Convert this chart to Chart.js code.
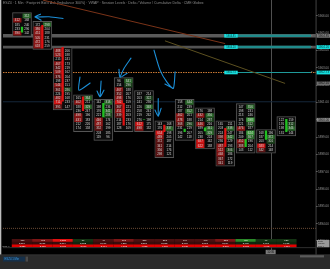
<!DOCTYPE html>
<html>
<head>
<meta charset="utf-8">
<script src="https://cdn.jsdelivr.net/npm/chart.js@4.4.1/dist/chart.umd.min.js"></script>
<style>
  html, body { margin: 0; padding: 0; background: #000; overflow: hidden; }
</style>
</head>
<body>
<canvas id="fp" width="330" height="269"></canvas>
<script>
// footprint 1 min : bid x ask par niveau de prix, bougie au centre, tableau delta en bas

var TICK = 0.25;
var FONT = "'Liberation Sans', Arial, sans-serif";

var header = 'ESZ4 · 1 Min · Footprint Bid x Ask (Imbalance 300%) · VWAP · Session Levels · Delta / Volume / Cumulative Delta · CME Globex';

// colonnes : premier niveau (haut) de chaque barre
var times = ['09:35', '09:40', '09:45', '09:50', '09:55', '10:00', '10:05', '10:10', '10:15', '10:20', '10:25', '10:30', '10:35', '10:40'];
var colTop = [5906.0, 5905.5, 5904.0, 5901.25, 5901.0, 5902.25, 5901.5, 5899.75, 5901.0, 5900.5, 5899.75, 5900.75, 5899.25, 5900.0];

var bidVol = [
  [0, 412, 185, 233, 390],
  [172, 386, 451, 505, 472, 618],
  [488, 523, 215, 467, 342, 509, 376, 198, 544, 361, 224, 482, 711, 395],
  [165, 402, 188, 236, 498, 431, 212, 174],
  [142, 198, 176, 221, 446, 487, 352, 203, 119],
  [96, 154, 467, 352, 498, 702, 367, 451, 339, 214, 187, 128],
  [187, 203, 241, 226, 258, 219, 276, 612, 498],
  [143, 176, 654, 489, 372, 341, 356, 298],
  [158, 212, 187, 462, 478, 368, 231, 196, 142],
  [176, 432, 214, 446, 189, 205, 238, 687, 622],
  [165, 203, 224, 398, 236, 487, 512, 468, 367, 341],
  [147, 198, 213, 176, 221, 476, 184, 209, 452, 388, 143],
  [168, 187, 203, 583, 342],
  [122, 176, 198, 131]
];
var askVol = [
  [312, 168, 240, 296, 142],
  [298, 204, 188, 231, 176, 259],
  [206, 188, 241, 173, 219, 162, 204, 237, 151, 286, 195, 168, 233, 147],
  [364, 211, 329, 247, 196, 183, 226, 158],
  [318, 236, 341, 288, 174, 162, 199, 185, 96],
  [341, 296, 188, 207, 176, 159, 221, 185, 203, 233, 176, 109],
  [214, 322, 236, 348, 241, 262, 198, 175, 132],
  [168, 337, 198, 205, 187, 214, 176, 121],
  [344, 239, 352, 201, 188, 296, 219, 207, 118],
  [198, 356, 287, 216, 341, 329, 224, 162, 138],
  [211, 338, 247, 342, 229, 193, 306, 186, 172, 119],
  [356, 231, 246, 598, 312, 187, 624, 367, 196, 204, 112],
  [196, 372, 301, 214, 148],
  [159, 312, 346, 144]
];
// imbalance par niveau : 1er car. = bid (r/R/B), 2e = ask (g/G/L), '.' = aucun
var imbalance = [
  ['.G', 'R.', '..', '..', 'R.'],
  ['.G', 'R.', 'R.', 'R.', 'R.', 'R.'],
  ['R.', 'R.', '..', 'R.', 'r.', 'R.', 'r.', '..', 'R.', 'rg', '..', 'R.', 'B.', 'r.'],
  ['.G', 'R.', '.G', '..', 'R.', 'R.', '..', '..'],
  ['.G', '..', '.G', '.g', 'R.', 'R.', 'r.', '..', '..'],
  ['.G', '.g', 'R.', 'r.', 'R.', 'B.', 'r.', 'R.', 'r.', '..', '..', '..'],
  ['..', '.g', '..', '.G', '..', '..', '..', 'B.', 'R.'],
  ['..', '.G', 'B.', 'R.', 'r.', 'r.', 'r.', 'r.'],
  ['.G', '..', '.G', 'R.', 'R.', 'rg', '..', '..', '..'],
  ['..', 'RG', '.g', 'R.', '.G', '.G', '..', 'B.', 'B.'],
  ['..', '.G', '..', 'rG', '..', 'R.', 'Rg', 'R.', 'r.', 'r.'],
  ['.G', '..', '..', '.L', '.g', 'R.', '.L', '.G', 'R.', 'r.', '..'],
  ['..', '.G', '.g', 'B.', 'r.'],
  ['..', '.g', '.G', '..']
];
var candleOpen = [5905.06, 5905.46, 5904.19, 5901.33, 5900.17, 5900.95, 5900.0, 5899.69, 5899.31, 5899.36, 5899.50, 5898.44, 5898.87, 5899.31];
var candleClose = [5905.35, 5904.14, 5901.08, 5900.52, 5900.95, 5899.69, 5900.0, 5899.31, 5899.46, 5899.54, 5898.44, 5898.87, 5899.36, 5900.02];

// tableau du bas
var tableDelta = [-118, -402, -1256, 86, -74, -391, -288, -212, -164, -148, -323, 412, 96, 138];
var tableVolume = [2304, 2911, 5874, 3122, 2967, 4217, 3260, 2813, 2968, 3018, 3104, 3962, 1978, 1612];
var tableCumDelta = [-2328, -2730, -3986, -3900, -3974, -4365, -4653, -4865, -5029, -5177, -5500, -5088, -4992, -4854];

// niveaux horizontaux
var bandLevels = [5904.85, 5904.20];
var alertLevel = 5902.73;
var sessionLevel = 5893.73;
var lastPrice = 5900.00;
var crossPrice = 5901.04;
var crossCol = 13.23;
var crossTime = '10:36';

// tendances et annotations (colonne, prix)
var trendRed = [{ x: 2.03, y: 5906.91 }, { x: 10.99, y: 5904.40 }];
var trendOlive = [{ x: 8.03, y: 5904.56 }, { x: 13.94, y: 5902.10 }];
var arrowMarks = [
  [{ x: 3.02, y: 5905.85 }, { x: 2.33, y: 5905.95 }, { x: 1.64, y: 5905.94 }, { x: 1.91, y: 5906.10 }, { x: 1.64, y: null }, { x: 1.64, y: 5905.94 }, { x: 1.94, y: 5905.75 }],
  [{ x: 3.85, y: 5902.47 }, { x: 3.80, y: 5901.71 }, { x: 4.35, y: 5902.12 }],
  [{ x: 4.89, y: 5902.23 }, { x: 4.84, y: 5901.33 }, { x: 4.84, y: null }, { x: 4.69, y: 5901.66 }, { x: 4.84, y: 5901.33 }, { x: 5.03, y: 5901.71 }],
  [{ x: 6.36, y: 5903.56 }, { x: 6.02, y: 5902.98 }, { x: 5.82, y: 5902.46 }, { x: 5.82, y: null }, { x: 5.77, y: 5902.92 }, { x: 5.82, y: 5902.46 }, { x: 6.17, y: 5902.69 }],
  [{ x: 7.49, y: 5904.02 }, { x: 7.79, y: 5902.87 }, { x: 8.12, y: 5902.19 }, { x: 8.44, y: 5901.81 }, { x: 8.53, y: 5902.77 }, { x: 8.53, y: null }, { x: 8.03, y: 5902.06 }, { x: 8.44, y: 5901.81 }],
  [{ x: 7.70, y: 5901.23 }, { x: 7.70, y: 5900.21 }, { x: 7.70, y: null }, { x: 7.54, y: 5900.56 }, { x: 7.70, y: 5900.21 }, { x: 7.84, y: 5900.66 }]
];

var TONE = { r: '#5a1313', R: '#8a1717', B: '#cf1515', g: '#1c401c', G: '#2b662b', L: '#3e9a3e' };
var CLEAR = 'rgba(0,0,0,0)';
var X_MIN = 0.065, X_MAX = 15.46;
var LABEL_COL = 10.95, LABEL_SPAN = 0.66, SEG_END = 15.21;

var boxes = [], bidCells = [], askCells = [], bidColors = [], askColors = [], candles = [], candleColors = [];
colTop.forEach(function (top, i) {
  var n = bidVol[i].length;
  boxes.push({ x: i + 1, y: [top - (n - 1) * TICK - 0.185, top + 0.185] });
  for (var r = 0; r < n; r++) {
    var p = top - r * TICK;
    bidCells.push({ x: i + 1 - 0.23, y: [p - 0.112, p + 0.112] });
    askCells.push({ x: i + 1 + 0.23, y: [p - 0.112, p + 0.112] });
    bidColors.push(TONE[imbalance[i][r][0]] || CLEAR);
    askColors.push(TONE[imbalance[i][r][1]] || CLEAR);
  }
  candles.push({ x: i + 1, y: [candleOpen[i], candleClose[i]] });
  candleColors.push(candleClose[i] >= candleOpen[i] ? '#21c021' : '#e01212');
});

function deltaColor(d) {
  if (d > 300) return '#2a8a2a';
  if (d > 0) return '#143414';
  if (d < -1000) return '#e01010';
  if (d < -300) return '#7c1616';
  return '#4a1010';
}
var tableRows = [tableCumDelta, tableVolume, tableDelta];
var tableSets = tableRows.map(function (row, k) {
  return {
    type: 'bar',
    yAxisID: 'yt',
    data: row.map(function (v, i) { return { x: i + 1, y: [k + 0.04, k + 0.96] }; }),
    backgroundColor: row.map(function (v, i) {
      if (k === 0) return v < 0 ? '#e30000' : '#1f9a1f';
      if (k === 1) return tableDelta[i] < 0 ? '#3a0b0b' : '#0e260e';
      return deltaColor(v);
    }),
    barThickness: 19.8,
    grouped: false,
    order: 7
  };
});

function hline(price, color, width, dash, order, from, to) {
  return {
    type: 'line',
    data: [{ x: from === undefined ? X_MIN : from, y: price }, { x: to === undefined ? X_MAX : to, y: price }],
    borderColor: color, borderWidth: width, borderDash: dash || [],
    pointRadius: 0, order: order
  };
}

var datasets = [
  hline(bandLevels[0], '#5a5a5a', 3.6, null, 20),
  hline(bandLevels[1], '#525252', 2.8, null, 20),
  hline(alertLevel, '#c87833', 1, [1.5, 1], 19),
  hline(bandLevels[0], '#1f8a8a', 2.6, null, 18, LABEL_COL, SEG_END),
  hline(bandLevels[1], '#1f8a8a', 2.4, null, 18, LABEL_COL, SEG_END),
  hline(alertLevel, '#1f9a9a', 1.1, null, 18, LABEL_COL, SEG_END),
  hline(sessionLevel, '#6b4a35', 1, [1, 1], 19),
  hline(crossPrice, '#15273a', 1, null, 21),
  { type: 'line', data: trendRed, borderColor: '#7a3318', borderWidth: 1, pointRadius: 0, clip: false, order: 4 },
  { type: 'line', data: trendOlive, borderColor: '#5c5020', borderWidth: 1, pointRadius: 0, order: 4 },
  { type: 'bar', data: boxes, backgroundColor: '#0b0b0b', borderColor: '#555555', borderWidth: 1, borderSkipped: false, barThickness: 19, grouped: false, order: 9 },
  { type: 'bar', data: bidCells, backgroundColor: bidColors, barThickness: 7.6, grouped: false, order: 6 },
  { type: 'bar', data: askCells, backgroundColor: askColors, barThickness: 7.6, grouped: false, order: 6 },
  { type: 'bar', data: candles, backgroundColor: candleColors, barThickness: 1.6, grouped: false, order: 5 }
].concat(tableSets);

arrowMarks.forEach(function (pts) {
  datasets.push({ type: 'line', data: pts, borderColor: '#1b8fd8', borderWidth: 1.1, pointRadius: 0, tension: 0.25, spanGaps: false, borderCapStyle: 'round', order: 1 });
});

function tag(ctx, y, bg, fg, text) {
  ctx.fillStyle = bg;
  ctx.fillRect(316.6, y - 1.9, 13.4, 3.8);
  ctx.fillStyle = fg;
  ctx.font = '3px ' + FONT;
  ctx.textAlign = 'left';
  ctx.textBaseline = 'middle';
  ctx.fillText(text, 318.2, y + 0.1);
}

var overlay = {
  id: 'overlay',
  beforeDraw: function (chart) {
    var ctx = chart.ctx;
    ctx.save();
    ctx.fillStyle = '#000';
    ctx.fillRect(0, 0, chart.width, chart.height);
    ctx.restore();
  },
  beforeDatasetsDraw: function (chart) {
    var ctx = chart.ctx;
    var cx = Math.round(chart.scales.x.getPixelForValue(crossCol)) + 0.5;
    ctx.save();
    ctx.strokeStyle = '#505050';
    ctx.lineWidth = 1;
    ctx.beginPath();
    ctx.moveTo(cx, 0);
    ctx.lineTo(cx, 254);
    ctx.stroke();
    ctx.restore();
  },
  afterDatasetsDraw: function (chart) {
    var ctx = chart.ctx;
    var xs = chart.scales.x, ys = chart.scales.y, yt = chart.scales.yt;
    ctx.save();
    ctx.textAlign = 'center';
    ctx.textBaseline = 'middle';
    ctx.font = '3px ' + FONT;
    ctx.fillStyle = '#d6d6d6';
    colTop.forEach(function (top, i) {
      var cx = xs.getPixelForValue(i + 1);
      bidVol[i].forEach(function (v, r) {
        var py = ys.getPixelForValue(top - r * TICK) + 0.2;
        if (v) ctx.fillText(String(v), cx - 4.7, py);
        if (askVol[i][r]) ctx.fillText(String(askVol[i][r]), cx + 4.7, py);
      });
    });
    // tableau
    ctx.font = '2.4px ' + FONT;
    ctx.fillStyle = '#f0f0f0';
    tableRows.forEach(function (row, k) {
      var py = yt.getPixelForValue(k + 0.5);
      row.forEach(function (v, i) {
        ctx.fillText(v.toLocaleString('en-US'), xs.getPixelForValue(i + 1), py);
      });
    });
    ctx.textAlign = 'left';
    ctx.fillStyle = '#bbbbbb';
    ctx.fillText('Cum Δ', 2.2, yt.getPixelForValue(0.5));
    // étiquettes cyan sur les niveaux
    var lx = xs.getPixelForValue(LABEL_COL);
    var lw = xs.getPixelForValue(LABEL_COL + LABEL_SPAN) - lx;
    bandLevels.concat([alertLevel]).forEach(function (p) {
      var py = ys.getPixelForValue(p);
      ctx.fillStyle = '#19dede';
      ctx.fillRect(lx, py - 1.8, lw, 3.6);
      ctx.fillStyle = '#043030';
      ctx.textAlign = 'center';
      ctx.font = '2.6px ' + FONT;
      ctx.fillText(p.toFixed(2), lx + lw / 2, py + 0.1);
      ctx.fillStyle = '#8a8a8a';
      ctx.font = '3.4px ' + FONT;
      ctx.fillText('×', xs.getPixelForValue(15.25), py);
    });
    ctx.restore();
  },
  afterDraw: function (chart) {
    var ctx = chart.ctx;
    var xs = chart.scales.x, ys = chart.scales.y;
    ctx.save();
    // bordures
    ctx.fillStyle = '#bdbdbd';
    ctx.fillRect(0, 0, 1.3, 255);
    ctx.fillStyle = '#4a4a4a';
    ctx.fillRect(315.6, 0, 0.9, 255);
    ctx.fillStyle = '#3a3a3a';
    ctx.fillRect(3, 247.3, 313, 0.8);
    // étiquettes de prix sur l'axe
    tag(ctx, ys.getPixelForValue(bandLevels[0]), '#7c7c7c', '#111', bandLevels[0].toFixed(2));
    tag(ctx, ys.getPixelForValue(bandLevels[1]), '#16e0e0', '#033', bandLevels[1].toFixed(2));
    tag(ctx, ys.getPixelForValue(alertLevel), '#16e0e0', '#033', alertLevel.toFixed(2));
    tag(ctx, ys.getPixelForValue(trendOlive[1].y), '#6e6e6e', '#111', trendOlive[1].y.toFixed(2));
    tag(ctx, ys.getPixelForValue(lastPrice), '#8a8a8a', '#111', lastPrice.toFixed(2));
    // légende du tableau sur l'axe
    ctx.fillStyle = '#9a9a9a';
    ctx.fillRect(317, 240, 12.5, 7.3);
    ctx.fillStyle = '#111';
    ctx.font = '2px ' + FONT;
    ctx.textAlign = 'left';
    ctx.textBaseline = 'middle';
    ['Delta', 'Volume', 'Cum Δ'].forEach(function (t, k) { ctx.fillText(t, 318, 241.3 + k * 2.4); });
    // curseur : heure
    var cx = xs.getPixelForValue(crossCol);
    ctx.fillStyle = '#7a7a7a';
    ctx.fillRect(cx - 5, 249.8, 10, 4.5);
    ctx.fillStyle = '#111';
    ctx.font = '2.8px ' + FONT;
    ctx.textAlign = 'center';
    ctx.fillText(crossTime, cx, 252.1);
    // barre du bas
    ctx.fillStyle = '#2a2a2a';
    ctx.fillRect(0, 254.6, 330, 14.4);
    ctx.fillStyle = '#3c3c3c';
    ctx.fillRect(0, 254.6, 330, 0.6);
    ctx.fillStyle = '#16304a';
    ctx.fillRect(3, 256.6, 22, 5);
    ctx.fillStyle = '#3e9ee6';
    ctx.font = '2.8px ' + FONT;
    ctx.textAlign = 'left';
    ctx.fillText('ESZ4 1 Min', 4.5, 259.2);
    ctx.fillStyle = '#4a4a4a';
    ctx.fillRect(25.6, 256.6, 2.4, 5);
    ctx.fillStyle = '#5a5a5a';
    ctx.fillRect(300, 255.2, 24, 2.2);
    ctx.restore();
  }
};

new Chart(document.getElementById('fp'), {
  type: 'bar',
  data: { datasets: datasets },
  options: {
    responsive: false,
    animation: false,
    events: [],
    layout: { padding: { left: 3, right: 0, top: 0, bottom: 14 } },
    plugins: {
      legend: { display: false },
      tooltip: { enabled: false },
      title: {
        display: true, text: header, align: 'start', color: '#8a8a8a',
        font: { size: 3.5, family: FONT, weight: 'normal' },
        padding: { top: 1, bottom: 1.2 }
      }
    },
    scales: {
      x: {
        type: 'linear', min: X_MIN, max: X_MAX, offset: false,
        grid: { display: false }, border: { display: false },
        ticks: {
          stepSize: 1, includeBounds: false, autoSkip: false, maxRotation: 0, padding: 2,
          color: '#8c8c8c', font: { size: 3, family: FONT },
          callback: function (v) { return times[v - 1] || ''; }
        },
        afterFit: function (s) { s.height = 7.5; }
      },
      y: {
        type: 'linear', position: 'right', min: 5892.624, max: 5906.548,
        grid: { display: true, drawOnChartArea: false, drawTicks: true, tickLength: 1.5, color: '#777' },
        border: { display: false },
        ticks: {
          stepSize: 1, includeBounds: false, padding: 0.6,
          color: '#9a9a9a', font: { size: 3, family: FONT },
          callback: function (v) { return v.toFixed(2); }
        },
        afterFit: function (s) { s.width = 14; }
      },
      yt: { display: false, min: 0, max: 88 }
    }
  },
  plugins: [overlay]
});
</script>
</body>
</html>
